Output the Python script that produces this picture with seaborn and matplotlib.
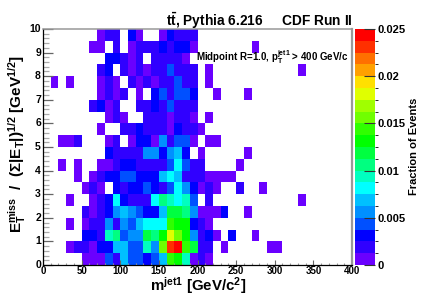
import numpy as np
import matplotlib
matplotlib.use("Agg")
import matplotlib.pyplot as plt
from matplotlib.colors import ListedColormap, BoundaryNorm
from matplotlib.ticker import FixedLocator
import seaborn as sns

# fraction of events per cell, in units of 1e-4; 0 = empty. Rows start at m=0, 10 GeV bins
row_00 = [0,0,0,0,0,6,6,6,44,19,69,44,44,31,44,69,144,131,94,6,19,6]
row_05 = [0,0,0,6,19,19,6,31,31,69,69,44,44,94,56,156,231,244,144,119,19,19,0,6,0,0,0,0,0,6,6]
row_10 = [0,0,0,0,0,31,31,19,94,106,44,56,56,119,106,131,181,156,131,56,19,31,6,0,31,0,0,6]
row_15 = [0,0,0,6,0,6,19,19,56,19,56,44,69,81,81,81,144,131,131,31,19,6]
row_20 = [0,0,0,0,0,19,6,19,31,56,69,56,44,31,31,69,119,119,106,56,6,6,6,31,0,0,6]
row_25 = [0,0,0,6,0,0,6,19,31,81,31,19,19,19,81,106,94,81,94,44,0,19,0,0,0,0,0,0,0,0,0,0,0,6]
row_30 = [0,0,0,0,0,6,19,6,0,31,19,31,31,44,31,19,44,81,56,31,6,19,6,0,0,19,0,0,6]
row_35 = [0,0,0,0,6,0,6,19,31,31,44,44,31,31,31,69,81,69,19,19,19,6,6,6,6]
row_40 = [0,0,6,0,6,0,0,6,6,19,31,31,19,19,19,19,44,81,44,19,19,0,0,0,0,6]
row_45 = [0,0,0,0,0,0,0,0,31,19,19,19,19,56,56,31,56,69,31,0,6,0,0,0,0,0,6]
row_50 = [0,0,6,6,19,0,0,0,6,19,0,6,31,31,6,56,19,44,44,6,0,6,6]
row_55 = [0,0,0,0,0,0,0,6,0,0,19,19,31,19,19,19,6,31,19,19,6]
row_60 = [0,0,0,0,0,0,0,0,6,19,6,0,0,19,19,19,6,19,19,6,0,6]
row_65 = [0,0,0,0,0,0,19,31,6,19,0,0,19,19,31,19,44,19,19,19]
row_70 = [0,0,0,0,0,0,0,6,19,6,19,0,6,0,31,44,19,44,44,31,0,0,6,0,0,0,6]
row_75 = [0,6,0,6,0,0,0,6,19,6,0,19,6,19,6,19,19,44,19,19,0,6]
row_80 = [0,0,0,0,0,0,0,19,31,0,19,6,19,6,19,19,44,19,19,19,0,6,0,0,0,0,0,0,0,0,0,0,0,6]
row_85 = [0,0,0,0,0,0,0,0,31,31,19,6,19,0,19,19,19,19,6]
row_90 = [0,0,0,0,0,0,6,6,0,19,0,6,19,19,19,31,19,31,31,6,0,0,0,0,0,0,0,6]
row_95 = [0,0,0,0,0,0,0,6,19,19,0,31,6,0,0,6,31,19,19,19]

rows = [row_00,row_05,row_10,row_15,row_20,row_25,row_30,row_35,row_40,row_45,
        row_50,row_55,row_60,row_65,row_70,row_75,row_80,row_85,row_90,row_95]
n_x, n_y = 40, 20
x_ticks = [0,50,100,150,200,250,300,350,400]
y_ticks = [0,1,2,3,4,5,6,7,8,9,10]
cbar_ticks = [0,0.005,0.01,0.015,0.02,0.025]
cbar_labels = ["0","0.005","0.01","0.015","0.02","0.025"]
palette = ["#6a00ff","#3000ff","#0000ff","#0050ff","#0090ff","#00c0ff","#00ffff","#00ffc0",
           "#00ff80","#00ff40","#00ff00","#30ff00","#70ff00","#a0ff00","#e0ff00","#ffe000",
           "#ffa000","#ff7000","#ff3000","#ff0000"]

plt.rcParams.update({"font.family":"Liberation Sans","font.weight":"bold",
    "mathtext.fontset":"custom","mathtext.rm":"Liberation Sans:bold","mathtext.bf":"Liberation Sans:bold",
    "mathtext.it":"Liberation Sans:bold","mathtext.default":"bf"})

grid = np.full((n_y,n_x),np.nan)
for j,r in enumerate(rows):
    a = np.array(r,dtype=float)*1e-4
    a[a==0] = np.nan
    grid[j,:len(a)] = a

W,H = 436,295
fig = plt.figure(figsize=(W/100,H/100),dpi=100,facecolor="white")
ax = fig.add_axes([43/W,1-265/H,309/W,236/H])
cax = fig.add_axes([355/W,1-265/H,20/W,236/H])
cmap = ListedColormap(palette)
norm = BoundaryNorm(np.linspace(0,0.025,21),20)
sns.heatmap(grid,ax=ax,cbar_ax=cax,cmap=cmap,norm=norm,mask=np.isnan(grid),
            cbar_kws={"ticks":cbar_ticks,"drawedges":False},linewidths=0,rasterized=True)
ax.set_xlim(0,n_x); ax.set_ylim(0,n_y)
ax.xaxis.set_major_locator(FixedLocator([v/10 for v in x_ticks]))
ax.xaxis.set_minor_locator(FixedLocator(np.arange(0,41)))
ax.set_xticklabels([str(v) for v in x_ticks],rotation=0,fontsize=7)
ax.yaxis.set_major_locator(FixedLocator([v*2 for v in y_ticks]))
ax.yaxis.set_minor_locator(FixedLocator(np.arange(0,20.1,0.4)))
ax.set_yticklabels([str(v) for v in y_ticks],rotation=0,fontsize=7.5)
ax.tick_params(axis="x",which="major",direction="in",length=3.6,width=0.8,color="#666666",pad=1,top=False)
ax.tick_params(axis="x",which="minor",direction="in",length=1.8,width=0.8,color="#999999",top=False)
ax.tick_params(axis="y",which="major",direction="in",length=7,width=0.9,color="#666666",pad=1.5,right=False)
ax.tick_params(axis="y",which="minor",direction="in",length=4.3,width=0.9,color="#aaaaaa",right=False)
for s,c,w in [("left","black",0.9),("bottom","black",0.9),("top","#999999",1.1),("right","#999999",1.6)]:
    ax.spines[s].set_visible(True); ax.spines[s].set_color(c); ax.spines[s].set_linewidth(w)
ax.set_xlabel("")
ax.set_ylabel("")

for s in cax.spines.values(): s.set_visible(False)
cax.yaxis.set_ticks_position("right")
cax.set_yticklabels(cbar_labels,fontsize=8)
cax.tick_params(axis="y",direction="in",length=8,width=0.8,color="#333333",pad=2)
fig.text(414/W,1-146.5/H,"Fraction of Events",rotation=90,ha="center",va="center",fontsize=8)

fig.text(353/W,1-21/H,r"t$\bar{\mathrm{t}}$, Pythia 6.216     CDF Run II",ha="right",va="center",fontsize=9.9)
fig.text(196/W,1-57/H,r"Midpoint R=1.0, p$_{\mathrm{T}}^{\mathrm{jet1}}$ > 400 GeV/c",ha="left",va="center",fontsize=7.05)
fig.text(198/W,1-285.6/H,r"m$^{\mathrm{jet1}}$ [GeV/c$^{2}$]",ha="center",va="center",fontsize=10.8)
fig.text(17/W,1-144/H,r"E$_{\mathrm{T}}^{\mathrm{miss}}$  /  ($\Sigma$|E$_{\mathrm{T}}$|)$^{1/2}$ [GeV$^{1/2}$]",
         rotation=90,ha="center",va="center",fontsize=11)
fig.savefig("out.png",dpi=100)
